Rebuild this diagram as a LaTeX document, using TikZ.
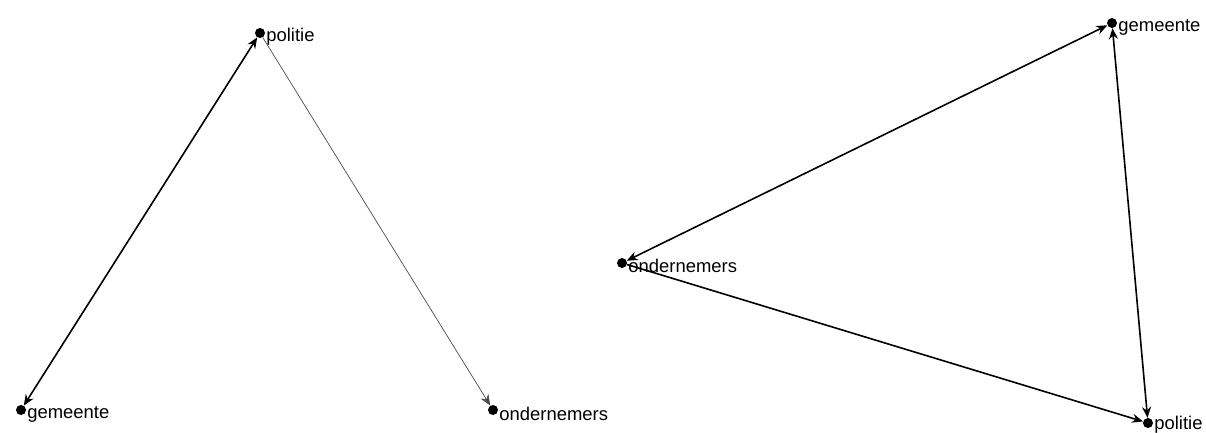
\documentclass[tikz,border=0pt]{standalone}
\usepackage{fontspec}
\setmainfont{Liberation Sans}
\usetikzlibrary{arrows.meta,positioning}

\tikzset{
  actor/.style={circle, fill=black, inner sep=0pt, minimum size=10bp},
  actorname/.style={inner sep=0pt, font=\fontsize{18.5}{20}\selectfont, anchor=west},
  tie/.style={line width=1.6bp, -{Stealth[length=11bp,width=9bp]}},
  both/.style={line width=1.6bp, {Stealth[length=11bp,width=9bp]}-{Stealth[length=11bp,width=9bp]}},
  weak/.style={line width=0.7bp, draw=black!70, -{Stealth[length=11bp,width=9bp]}}
}

\begin{document}
\begin{tikzpicture}[x=1bp, y=-1bp]
\useasboundingbox (0,0) rectangle (1206,432);

% left network
\node[actor] (polL) at (260,33) {};
\node[actor] (gemL) at (21,410) {};
\node[actor] (ondL) at (493,410) {};
\node[actorname, right=1bp of polL, yshift=-4bp] (polLt) {politie};
\node[actorname, right=1bp of gemL, yshift=-4bp] (gemLt) {gemeente};
\node[actorname, right=1bp of ondL, yshift=-4bp] (ondLt) {ondernemers};

\draw[both] (gemL) -- (polL);
\draw[weak] (polL) -- (ondL);

% right network
\node[actor] (gemR) at (1112,23) {};
\node[actor] (ondR) at (622,263) {};
\node[actor] (polR) at (1148,423) {};
\node[actorname, right=1bp of gemR, yshift=-4bp] (gemRt) {gemeente};
\node[actorname, right=1bp of ondR, yshift=-3bp] (ondRt) {ondernemers};
\node[actorname, right=1bp of polR, yshift=-2bp] (polRt) {politie};

\draw[both] (ondR) -- (gemR);
\draw[tie] (ondR) -- (polR);
\draw[both] (gemR) -- (polR);
\end{tikzpicture}
\end{document}
